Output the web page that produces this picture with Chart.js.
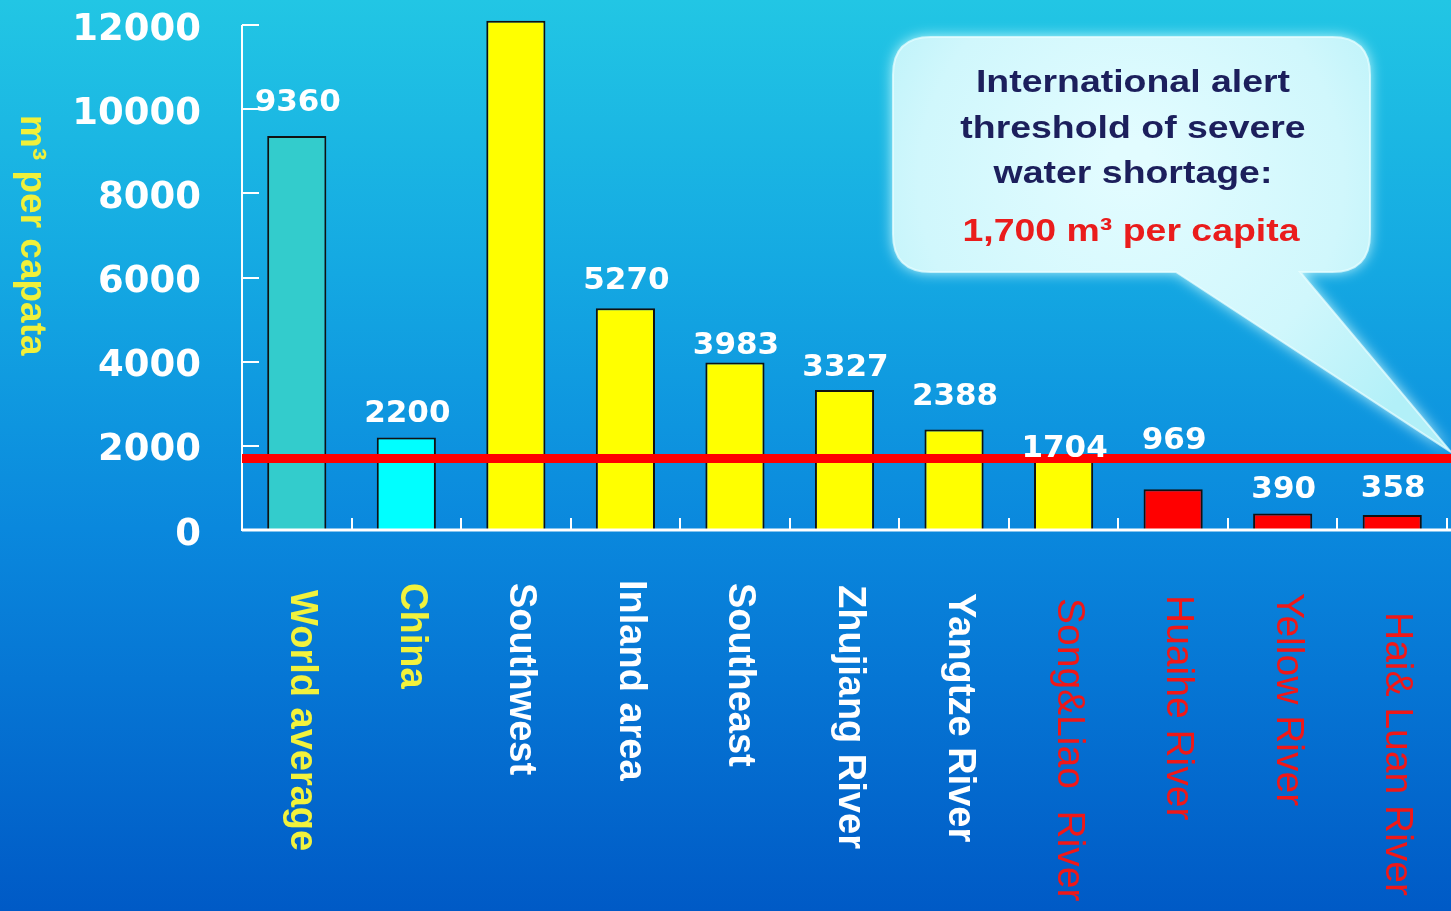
<!DOCTYPE html>
<html>
<head>
<meta charset="utf-8">
<script src="https://cdn.jsdelivr.net/npm/chart.js@4/dist/chart.umd.min.js"></script>
<style>
  html, body { margin: 0; padding: 0; overflow: hidden; background: #0a88dd; }
  #wrap { position: relative; width: 1451px; height: 911px; }
</style>
</head>
<body>
<div id="wrap"><canvas id="chart"></canvas></div>
<script>
// ---- data ----
const categories = ['World average', 'China', 'Southwest', 'Inland area', 'Southeast',
  'Zhujiang River', 'Yangtze River', 'Song&Liao  River', 'Huaihe River', 'Yellow River', 'Hai& Luan River'];
const perCapita = [9360, 2200, 12100, 5270, 3983, 3327, 2388, 1704, 969, 390, 358];
const valueShown = [true, true, false, true, true, true, true, true, true, true, true];
const yTicks = [0, 2000, 4000, 6000, 8000, 10000, 12000];
const threshold = 1700;
const yTitle = 'm\u00b3 per capata';
const calloutLines = ['International alert', 'threshold of severe', 'water shortage:'];
const calloutValue = '1,700 m\u00b3 per capita';

// ---- styles ----
const barColors = ['#33cccc', '#00ffff', '#ffff00', '#ffff00', '#ffff00', '#ffff00',
  '#ffff00', '#ffff00', '#ff0000', '#ff0000', '#ff0000'];
const catColors = ['#f2f23c', '#f2f23c', '#ffffff', '#ffffff', '#ffffff', '#ffffff',
  '#ffffff', '#f01818', '#f01818', '#f01818', '#f01818'];
const catBold = [true, true, true, true, true, true, true, false, false, false, false];
const catDrop = [60, 53, 53, 50, 53, 55, 63, 68, 65, 63, 82];   // label start below the axis
const valueGap = [25, 15, 0, 19, 8, 14, 25, 1, 40, 16, 18];      // space between bar top and its number

function drawCallout(ctx) {
  const L = 893, T = 37, R = 1370, B = 272, r = 38;
  const tailA = 1176, tailB = 1300, tipX = 1451, tipY = 452;
  ctx.save();
  ctx.beginPath();
  ctx.moveTo(L + r, T);
  ctx.lineTo(R - r, T);
  ctx.quadraticCurveTo(R, T, R, T + r);
  ctx.lineTo(R, B - r);
  ctx.quadraticCurveTo(R, B, R - r, B);
  ctx.lineTo(tailB, B);
  ctx.lineTo(tipX, tipY);
  ctx.lineTo(tailA, B);
  ctx.lineTo(L + r, B);
  ctx.quadraticCurveTo(L, B, L, B - r);
  ctx.lineTo(L, T + r);
  ctx.quadraticCurveTo(L, T, L + r, T);
  ctx.closePath();
  const g = ctx.createRadialGradient(1131, 160, 20, 1131, 190, 340);
  g.addColorStop(0, '#e2fcff');
  g.addColorStop(0.6, '#d0f7fc');
  g.addColorStop(1, '#b2f0f8');
  ctx.shadowColor = 'rgba(215,255,255,0.95)';
  ctx.shadowBlur = 14;
  ctx.fillStyle = g;
  ctx.fill();
  ctx.shadowBlur = 0;
  ctx.strokeStyle = 'rgba(235,255,255,0.7)';
  ctx.lineWidth = 2;
  ctx.stroke();

  // text, slightly widened like the slide's typeface
  const cx = 1133;
  const stretch = 1.17;
  ctx.textAlign = 'center';
  ctx.textBaseline = 'alphabetic';
  ctx.font = 'bold 32px "Liberation Sans", Arial, sans-serif';
  const bases = [92, 138, 183];
  calloutLines.forEach((t, i) => {
    ctx.save();
    ctx.translate(cx, bases[i]);
    ctx.scale(stretch, 1);
    ctx.fillStyle = '#1c1f5c';
    ctx.fillText(t, 0, 0);
    ctx.restore();
  });
  ctx.save();
  ctx.translate(cx - 2, 241);
  ctx.scale(stretch, 1);
  ctx.fillStyle = '#ea1c1c';
  ctx.fillText(calloutValue, 0, 0);
  ctx.restore();
  ctx.restore();
}

const decor = {
  id: 'decor',
  beforeDraw(chart) {
    const { ctx, width, height } = chart;
    const g = ctx.createLinearGradient(0, 0, 0, height);
    g.addColorStop(0, '#22c6e4');
    g.addColorStop(0.3, '#14a8e2');
    g.addColorStop(0.58, '#0a88dd');
    g.addColorStop(1, '#005ac6');
    ctx.save();
    ctx.fillStyle = g;
    ctx.fillRect(0, 0, width, height);
    ctx.restore();
  },
  afterDatasetsDraw(chart) {
    const { ctx, chartArea: a, scales: { x, y } } = chart;

    // axis lines and inward tick marks
    ctx.save();
    ctx.strokeStyle = '#ffffff';
    ctx.lineWidth = 2;
    ctx.beginPath();
    ctx.moveTo(a.left, y.getPixelForValue(yTicks[yTicks.length - 1]));
    ctx.lineTo(a.left, a.bottom + 1);
    ctx.stroke();
    ctx.lineWidth = 3;
    ctx.beginPath();
    ctx.moveTo(a.left, a.bottom);
    ctx.lineTo(chart.width, a.bottom);
    ctx.stroke();
    ctx.lineWidth = 2;
    yTicks.forEach(v => {
      const py = Math.round(y.getPixelForValue(v));
      ctx.beginPath();
      ctx.moveTo(a.left, py);
      ctx.lineTo(a.left + 17, py);
      ctx.stroke();
    });
    const half = (x.getPixelForTick(1) - x.getPixelForTick(0)) / 2;
    categories.forEach((c, i) => {
      const px = Math.round(x.getPixelForTick(i) + half);
      ctx.beginPath();
      ctx.moveTo(px, a.bottom);
      ctx.lineTo(px, a.bottom - 12);
      ctx.stroke();
    });
    ctx.restore();

    drawCallout(ctx);

    // alert threshold
    const ty = y.getPixelForValue(threshold);
    ctx.save();
    ctx.strokeStyle = '#ff0000';
    ctx.lineWidth = 9;
    ctx.beginPath();
    ctx.moveTo(a.left, ty);
    ctx.lineTo(chart.width, ty);
    ctx.stroke();
    ctx.restore();

    // numbers above bars
    const meta = chart.getDatasetMeta(0);
    ctx.save();
    ctx.fillStyle = '#ffffff';
    ctx.font = 'bold 31px "DejaVu Sans", sans-serif';
    ctx.textAlign = 'center';
    ctx.textBaseline = 'alphabetic';
    meta.data.forEach((bar, i) => {
      if (!valueShown[i]) return;
      ctx.fillText(String(perCapita[i]), bar.x + 1, bar.y - valueGap[i]);
    });
    ctx.restore();

    // category names, turned to read downward
    ctx.save();
    ctx.textAlign = 'left';
    ctx.textBaseline = 'middle';
    categories.forEach((c, i) => {
      const px = x.getPixelForTick(i) + 5;
      ctx.save();
      ctx.translate(px, a.bottom + catDrop[i]);
      ctx.rotate(Math.PI / 2);
      ctx.font = (catBold[i] ? 'bold 38px' : '39px') + ' "Liberation Sans", Arial, sans-serif';
      ctx.fillStyle = catColors[i];
      ctx.fillText(c, 0, 0);
      ctx.restore();
    });

    // value axis title
    ctx.save();
    ctx.translate(31, 115);
    ctx.rotate(Math.PI / 2);
    ctx.font = 'bold 37px "Liberation Sans", Arial, sans-serif';
    ctx.fillStyle = '#f0f03a';
    ctx.fillText(yTitle, 0, 0);
    ctx.restore();
    ctx.restore();
  }
};

new Chart(document.getElementById('chart'), {
  type: 'bar',
  data: {
    labels: categories,
    datasets: [{
      data: perCapita,
      backgroundColor: barColors,
      borderColor: '#111111',
      borderWidth: 2,
      barPercentage: 0.54,
      categoryPercentage: 1,
      clip: false
    }]
  },
  options: {
    responsive: true,
    maintainAspectRatio: false,
    animation: false,
    layout: { padding: { top: 25, right: 4, left: 0, bottom: 0 } },
    plugins: { legend: { display: false }, tooltip: { enabled: false } },
    scales: {
      x: {
        grid: { display: false },
        border: { display: false },
        ticks: { display: false },
        afterFit(s) { s.height = 381; }
      },
      y: {
        min: 0,
        max: 12000,
        grid: { display: false, drawTicks: true, tickLength: 41 },
        border: { display: false },
        afterBuildTicks(s) { s.ticks = yTicks.map(v => ({ value: v })); },
        afterFit(s) { s.width = 242; },
        ticks: {
          color: '#ffffff',
          padding: 0,
          labelOffset: 5,
          callback: v => String(v),
          font: { family: '"DejaVu Sans", sans-serif', size: 37, weight: 'bold' }
        }
      }
    }
  },
  plugins: [decor]
});
</script>
</body>
</html>
